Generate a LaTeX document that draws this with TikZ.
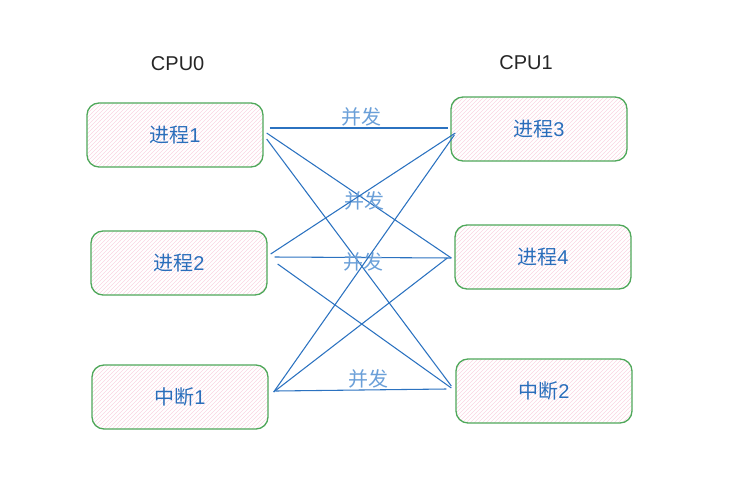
\documentclass[tikz,border=0pt]{standalone}
\usepackage{fontspec}
\setmainfont{Liberation Sans}
\newfontfamily\cjk{Noto Sans CJK SC}
\usepackage{xcolor}
\usetikzlibrary{positioning, patterns}

\definecolor{procText}{HTML}{2A6EBB}
\definecolor{linkBlue}{HTML}{2B72C0}
\definecolor{tagBlue}{HTML}{6A9FD8}
\definecolor{boxGreen}{HTML}{4FA85A}
\definecolor{hatchPink}{HTML}{F9D6E2}

\begin{document}
\begin{tikzpicture}[
  proc/.style={rectangle, draw=boxGreen, line width=1pt, rounded corners=9pt, pattern=north east lines, pattern color=hatchPink, minimum width=132pt, minimum height=48pt, text=procText, font=\fontsize{15}{18}\selectfont},
  cpu/.style={inner sep=0pt, text=black!85, font=\fontsize{15}{18}\selectfont},
  link/.style={linkBlue, line width=0.8pt},
  concur/.style={text=tagBlue, font=\cjk\fontsize{15}{18}\selectfont, inner sep=1pt}
]
  \useasboundingbox (0,0) rectangle (555pt,-375.75pt);

  \node[proc] (proc1) at (131.25pt,-101.25pt) {{\cjk 进程}1};
  \node[proc, below=47pt of proc1, xshift=3pt] (proc2) {{\cjk 进程}2};
  \node[proc, below=51.5pt of proc2, xshift=0.75pt] (irq1) {{\cjk 中断}1};

  \node[proc, right=140pt of proc1, yshift=4.5pt] (proc3) {{\cjk 进程}3};
  \node[proc, below=47pt of proc3, xshift=3pt] (proc4) {{\cjk 进程}4};
  \node[proc, below=51.5pt of proc4, xshift=0.75pt] (irq2) {{\cjk 中断}2};

  \node[cpu, above=23.5pt of proc1, xshift=2pt] (cpu0) {CPU0};
  \node[cpu, above=20pt of proc3, xshift=-9.75pt] (cpu1) {CPU1};

  % from proc1
  \draw[link] ([xshift=4.5pt,yshift=5.25pt]proc1.east) -- node[concur, above, xshift=2pt] {并发} ([xshift=-1.5pt,yshift=0.75pt]proc3.west);
  \draw[link] ([xshift=2.25pt,yshift=1.5pt]proc1.east) -- node[concur, xshift=3.75pt, yshift=-4pt] {并发} ([xshift=-2.25pt,yshift=-0.75pt]proc4.west);
  \draw[link] ([xshift=2.25pt,yshift=-3pt]proc1.east) -- ([xshift=-3pt,yshift=3.75pt]irq2.west);
  % from proc2
  \draw[link] ([xshift=2.25pt,yshift=6.75pt]proc2.east) -- ([xshift=3.75pt,yshift=-3pt]proc3.west);
  \draw[link] ([xshift=5.25pt,yshift=4.5pt]proc2.east) -- node[concur, yshift=-3.4pt] {并发} ([xshift=-2.25pt,yshift=-0.75pt]proc4.west);
  \draw[link] ([xshift=7.5pt,yshift=-0.75pt]proc2.east) -- ([xshift=-3pt,yshift=2.25pt]irq2.west);
  % from irq1
  \draw[link] ([xshift=3.75pt,yshift=3.75pt]irq1.east) -- ([xshift=3pt,yshift=-4.5pt]proc3.west);
  \draw[link] ([xshift=3.75pt,yshift=3.75pt]irq1.east) -- ([xshift=-5.25pt,yshift=-0.75pt]proc4.west);
  \draw[link] ([xshift=5.25pt,yshift=4.5pt]irq1.east) -- node[concur, above, xshift=5.25pt] {并发} ([xshift=-6.75pt,yshift=1.5pt]irq2.west);
\end{tikzpicture}
\end{document}
